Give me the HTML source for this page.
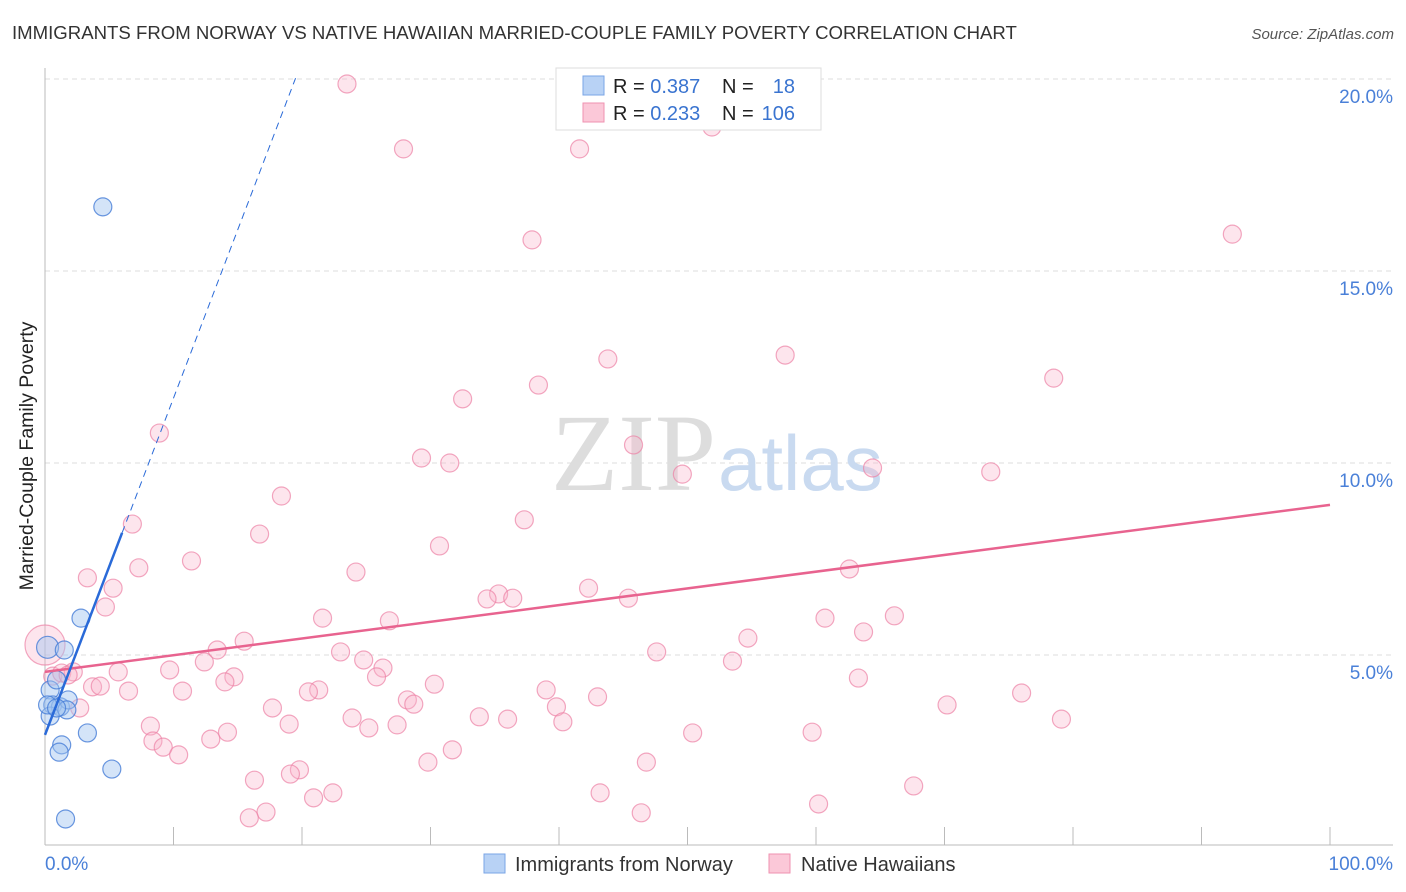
<!DOCTYPE html>
<html><head><meta charset="utf-8">
<style>
body{margin:0;background:#fff;font-family:"Liberation Sans",sans-serif;}
#wrap{position:relative;width:1406px;height:892px;overflow:hidden;}
</style></head>
<body>
<div id="wrap">
<svg id="svg" width="1406" height="892" xmlns="http://www.w3.org/2000/svg">
<text x="12" y="39" font-size="18.6" fill="#333">IMMIGRANTS FROM NORWAY VS NATIVE HAWAIIAN MARRIED-COUPLE FAMILY POVERTY CORRELATION CHART</text>
<text x="1394" y="39" font-size="15" fill="#555" font-style="italic" text-anchor="end">Source: ZipAtlas.com</text>
<text x="33" y="456" font-size="19.5" fill="#222" text-anchor="middle" transform="rotate(-90 33 456)">Married-Couple Family Poverty</text>
<g id="grid"></g>
<text x="716" y="490" font-size="110" fill="#ddd" text-anchor="end" font-family="Liberation Serif,serif">ZIP</text>
<text x="718" y="490" font-size="78" fill="#c9daf0">atlas</text>
<g id="marks"></g>
<g>
<rect x="556" y="68" width="265" height="62" fill="#fff" stroke="#ddd"/>
<rect x="583" y="76" width="21" height="19" fill="#b8d2f5" stroke="#7aa5e6"/>
<rect x="583" y="103" width="21" height="19" fill="#fbc8d8" stroke="#ef92b0"/>
<text x="613" y="93" font-size="20" fill="#222">R = <tspan fill="#3a74d0">0.387</tspan></text>
<text x="722" y="93" font-size="20" fill="#222">N = </text>
<text x="795" y="93" font-size="20" fill="#3a74d0" text-anchor="end">18</text>
<text x="613" y="120" font-size="20" fill="#222">R = <tspan fill="#3a74d0">0.233</tspan></text>
<text x="722" y="120" font-size="20" fill="#222">N = </text>
<text x="795" y="120" font-size="20" fill="#3a74d0" text-anchor="end">106</text>
</g>
<g>
<rect x="484" y="854" width="21" height="19" fill="#b8d2f5" stroke="#7aa5e6"/>
<text x="515" y="871" font-size="20" fill="#333">Immigrants from Norway</text>
<rect x="769" y="854" width="21" height="19" fill="#fbc8d8" stroke="#ef92b0"/>
<text x="801" y="871" font-size="20" fill="#333">Native Hawaiians</text>
</g>
</svg>
</div>
<script>
const yTicks=[5,10,15,20];
const yTickLabels=["5.0%","10.0%","15.0%","20.0%"];
const xEndLabels=["0.0%","100.0%"];
const blueX=[4.5,2.8,0.2,1.5,0.4,0.9,0.6,1.2,1.8,1.7,0.4,3.3,1.3,1.1,5.2,1.6,0.2,0.9];
const blueY=[16.67,5.96,5.2,5.13,4.09,4.35,3.7,3.65,3.83,3.57,3.41,2.97,2.66,2.47,2.03,0.73,3.7,3.62];
const pinkX=[23.5,27.9,41.6,51.9,37.9,92.4,43.8,57.6,38.4,78.5,32.5,8.9,45.8,29.3,31.5,49.6,64.4,73.6,18.4,6.8,37.3,16.7,30.7,11.4,7.3,24.2,62.6,3.3,5.3,42.3,35.3,34.4,36.4,45.4,4.7,21.6,26.8,60.7,66.1,63.7,15.5,13.4,54.7,23.0,47.6,24.8,26.3,12.4,53.5,5.7,9.7,0.6,1.3,2.2,1.8,14.7,25.8,63.3,14.0,3.7,4.3,6.5,10.7,21.3,20.5,30.3,39.0,43.0,76.0,28.2,28.7,17.7,39.8,70.2,2.7,23.9,33.8,36.0,40.3,79.1,8.2,19.0,25.2,27.4,14.2,12.9,50.4,59.7,8.4,9.2,10.4,31.7,29.8,46.8,19.8,19.1,16.3,67.6,43.2,22.4,20.9,60.2,17.2,15.9,46.4,0.0];
const pinkY=[19.87,18.18,18.18,18.75,15.81,15.96,12.71,12.81,12.03,12.21,11.67,10.78,10.47,10.13,10.0,9.71,9.87,9.77,9.14,8.41,8.52,8.15,7.84,7.45,7.27,7.16,7.24,7.01,6.74,6.74,6.59,6.46,6.48,6.48,6.25,5.96,5.89,5.96,6.02,5.6,5.36,5.13,5.44,5.08,5.08,4.87,4.66,4.82,4.84,4.56,4.61,4.45,4.53,4.56,4.48,4.43,4.43,4.4,4.3,4.17,4.19,4.06,4.06,4.09,4.04,4.24,4.09,3.91,4.01,3.83,3.72,3.62,3.65,3.7,3.62,3.36,3.39,3.33,3.26,3.33,3.15,3.2,3.1,3.18,2.99,2.81,2.97,2.99,2.76,2.6,2.4,2.53,2.21,2.21,2.01,1.9,1.74,1.59,1.41,1.41,1.28,1.12,0.91,0.76,0.89,5.26];
const blueTrend=[2.92,0.877];
const pinkTrend=[4.56,0.0435];

const X=v=>45+v*12.85, Y=v=>847-v*38.4;
const NS="http://www.w3.org/2000/svg";
function mk(tag,attrs,parent){const e=document.createElementNS(NS,tag);for(const k in attrs)e.setAttribute(k,attrs[k]);parent.appendChild(e);return e;}
const grid=document.getElementById('grid'), marks=document.getElementById('marks');
yTicks.forEach((t,i)=>{
  const l=mk('line',{x1:45,x2:1393,y1:Y(t),y2:Y(t),stroke:'#ddd','stroke-dasharray':'5,4'},grid);
  
  
  const tx=mk('text',{x:1393,y:Y(t)+24,'font-size':19,fill:'#4a80d8','text-anchor':'end'},grid);
  tx.textContent=yTickLabels[i];
  
  
});
const ax=mk('line',{x1:45,x2:45,y1:68,y2:845,stroke:'#bbb'},grid);


const bx=mk('line',{x1:45,x2:1393,y1:845,y2:845,stroke:'#bbb'},grid);


for(let i=0;i<=10;i++){
  const t=mk('line',{x1:X(i*10),x2:X(i*10),y1:827,y2:845,stroke:'#bbb'},grid);
  
  
}
[[0,'start',45],[100,'end',1393]].forEach((d,i)=>{
  const t=mk('text',{x:d[2],y:870,'font-size':19,fill:'#4a80d8','text-anchor':d[1]},grid);
  t.textContent=xEndLabels[i];
  
  
});
pinkX.forEach((x,i)=>{
  const c=mk('circle',{cx:X(x),cy:Y(pinkY[i]),r:i===pinkX.length-1?20:9,fill:'rgba(248,180,202,0.35)',stroke:'rgba(236,130,165,0.7)','stroke-width':1.2},marks);
  
  
});
blueX.forEach((x,i)=>{
  const c=mk('circle',{cx:X(x),cy:Y(blueY[i]),r:i===2?11:9,fill:'rgba(160,195,240,0.45)',stroke:'rgba(70,125,215,0.8)','stroke-width':1.2},marks);
  
  
});
const pl=mk('line',{x1:X(0),y1:Y(pinkTrend[0]),x2:X(100),y2:Y(pinkTrend[0]+pinkTrend[1]*100),stroke:'#e8638f','stroke-width':2.5},marks);


const bl=mk('line',{x1:X(0),y1:Y(blueTrend[0]),x2:X(6),y2:Y(blueTrend[0]+blueTrend[1]*6),stroke:'#2a6ad8','stroke-width':2.5},marks);


const bd=mk('line',{x1:X(6),y1:Y(blueTrend[0]+blueTrend[1]*6),x2:X(19.5),y2:Y(blueTrend[0]+blueTrend[1]*19.5),stroke:'#2a6ad8','stroke-width':1,'stroke-dasharray':'7,5'},marks);


</script>
</body></html>
